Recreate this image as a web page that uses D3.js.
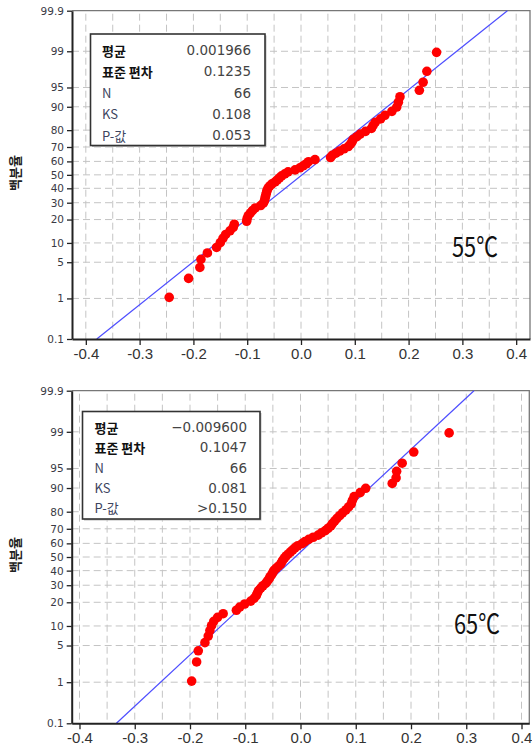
<!DOCTYPE html>
<html>
<head>
<meta charset="utf-8">
<script src="https://cdn.jsdelivr.net/npm/d3@7/dist/d3.min.js"></script>
<style>
  html, body { margin: 0; padding: 0; background: #fff; }
  svg { display: block; }
</style>
</head>
<body>
<svg id="chart" width="532" height="750"></svg>
<script>
// ---------------- DATA ----------------
const probTicks = [0.1, 1, 5, 10, 20, 30, 40, 50, 60, 70, 80, 90, 95, 99, 99.9];
const gridProbs = [1, 5, 10, 20, 30, 40, 50, 60, 70, 80, 90, 95, 99];
const xTicks = [-0.4, -0.3, -0.2, -0.1, 0.0, 0.1, 0.2, 0.3, 0.4];
const xGrid = [-0.4, -0.35, -0.3, -0.25, -0.2, -0.15, -0.1, -0.05, 0, 0.05, 0.1, 0.15, 0.2, 0.25, 0.3, 0.35, 0.4];

const statLabels = ["평균", "표준 편차", "N", "KS", "P-값"];
const stats55 = ["0.001966", "0.1235", "66", "0.108", "0.053"];
const stats65 = ["\u22120.009600", "0.1047", "66", "0.081", ">0.150"];

const fitMean = [0.001966, -0.0096];
const fitSd = [0.1235, 0.1047];
const panelTitles = ["55\u2103", "65\u2103"];

// sorted observed values (residuals), 66 per panel
const values55 = [
  -0.245, -0.209, -0.188, -0.186, -0.174, -0.157, -0.150, -0.145, -0.140, -0.132,
  -0.126, -0.124, -0.101, -0.100, -0.098, -0.094, -0.090, -0.085, -0.075, -0.070,
  -0.068, -0.067, -0.066, -0.065, -0.064, -0.063, -0.061, -0.058, -0.054, -0.048,
  -0.044, -0.040, -0.036, -0.030, -0.024, -0.011, -0.002, 0.004, 0.010, 0.014,
  0.026, 0.055, 0.058, 0.065, 0.072, 0.080, 0.088, 0.092, 0.095, 0.097,
  0.104, 0.110, 0.120, 0.131, 0.134, 0.138, 0.148, 0.156, 0.169, 0.178,
  0.181, 0.184, 0.220, 0.227, 0.234, 0.252
];
const values65 = [
  -0.197, -0.188, -0.185, -0.173, -0.167, -0.164, -0.161, -0.157, -0.150, -0.140,
  -0.116, -0.110, -0.101, -0.090, -0.084, -0.080, -0.078, -0.076, -0.072, -0.068,
  -0.063, -0.060, -0.057, -0.055, -0.052, -0.050, -0.048, -0.044, -0.040, -0.036,
  -0.034, -0.032, -0.029, -0.026, -0.022, -0.018, -0.014, -0.010, -0.005, 0.003,
  0.008, 0.015, 0.023, 0.032, 0.038, 0.045, 0.050, 0.055, 0.058, 0.062,
  0.066, 0.071, 0.076, 0.082, 0.087, 0.092, 0.094, 0.097, 0.108, 0.118,
  0.166, 0.173, 0.174, 0.184, 0.205, 0.269
];

// ---------------- HELPERS ----------------
// inverse standard normal CDF (Acklam)
function probit(p) {
  const a = [-3.969683028665376e+01, 2.209460984245205e+02, -2.759285104469687e+02, 1.383577518672690e+02, -3.066479806614716e+01, 2.506628277459239e+00];
  const b = [-5.447609879822406e+01, 1.615858368580409e+02, -1.556989798598866e+02, 6.680131188771972e+01, -1.328068155288572e+01];
  const c = [-7.784894002430293e-03, -3.223964580411365e-01, -2.400758277161838e+00, -2.549732539343734e+00, 4.374664141464968e+00, 2.938163982698783e+00];
  const d = [7.784695709041462e-03, 3.224671290700398e-01, 2.445134137142996e+00, 3.754408661907416e+00];
  const pl = 0.02425, ph = 1 - pl;
  let q, r;
  if (p < pl) {
    q = Math.sqrt(-2 * Math.log(p));
    return (((((c[0]*q+c[1])*q+c[2])*q+c[3])*q+c[4])*q+c[5]) / ((((d[0]*q+d[1])*q+d[2])*q+d[3])*q+1);
  } else if (p <= ph) {
    q = p - 0.5; r = q*q;
    return (((((a[0]*r+a[1])*r+a[2])*r+a[3])*r+a[4])*r+a[5])*q / (((((b[0]*r+b[1])*r+b[2])*r+b[3])*r+b[4])*r+1);
  } else {
    q = Math.sqrt(-2 * Math.log(1 - p));
    return -(((((c[0]*q+c[1])*q+c[2])*q+c[3])*q+c[4])*q+c[5]) / ((((d[0]*q+d[1])*q+d[2])*q+d[3])*q+1);
  }
}

const svg = d3.select("#chart");

const panels = [
  { left: 72, right: 530, top: 10.7, bottom: 339, xDom: [-0.4257, 0.4257],
    values: values55, stats: stats55, mean: fitMean[0], sd: fitSd[0], title: panelTitles[0],
    box: { x: 90.5, y: 34, w: 174.5, h: 111.5, lx: 102, vx: 251, y0: 50, dy: 21.3 },
    titlePos: [452, 245], ylabPos: [14, 173] },
  { left: 71.7, right: 529.3, top: 390.7, bottom: 723.3, xDom: [-0.4141, 0.4141],
    values: values65, stats: stats65, mean: fitMean[1], sd: fitSd[1], title: panelTitles[1],
    box: { x: 82.5, y: 411.5, w: 177.5, h: 107.5, lx: 94.5, vx: 247, y0: 427.3, dy: 20.1 },
    titlePos: [454, 622], ylabPos: [14, 555] }
];

panels.forEach((P) => {
  const g = svg.append("g");
  const x = d3.scaleLinear().domain(P.xDom).range([P.left, P.right]);
  const y = d3.scaleLinear().domain([probit(0.001), probit(0.999)]).range([P.bottom, P.top]);
  const yp = (pct) => y(probit(pct / 100));

  // grid
  g.append("g").selectAll("line").data(gridProbs).join("line")
    .attr("x1", P.left).attr("x2", P.right)
    .attr("y1", d => yp(d)).attr("y2", d => yp(d))
    .attr("stroke", "#c4c4c4").attr("stroke-width", 1).attr("stroke-dasharray", "7,4");
  g.append("g").selectAll("line").data(xGrid).join("line")
    .attr("x1", d => x(d)).attr("x2", d => x(d))
    .attr("y1", P.top + 3).attr("y2", P.bottom)
    .attr("stroke", "#c4c4c4").attr("stroke-width", 1).attr("stroke-dasharray", "7,4");

  // frame top/right
  g.append("path")
    .attr("d", `M${P.left},${P.top}H${P.right}V${P.bottom}`)
    .attr("fill", "none").attr("stroke", "#777").attr("stroke-width", 1.3);

  // fitted line
  const zLo = probit(0.001), zHi = probit(0.999);
  g.append("line")
    .attr("x1", x(P.mean + zLo * P.sd)).attr("y1", y(zLo))
    .attr("x2", x(P.mean + zHi * P.sd)).attr("y2", y(zHi))
    .attr("stroke", "#4d4dff").attr("stroke-width", 1.2);

  // points
  const n = P.values.length;
  g.append("g").selectAll("circle").data(P.values).join("circle")
    .attr("cx", d => x(d))
    .attr("cy", (d, i) => y(probit((i + 1 - 0.3) / (n + 0.4))))
    .attr("r", 4.8)
    .attr("fill", "#ff0000");

  // axes
  const yAxis = d3.axisLeft(y)
    .tickValues(probTicks.map(p => probit(p / 100)))
    .tickFormat((d, i) => String(probTicks[i]))
    .tickSize(5).tickSizeOuter(0);
  const ya = g.append("g").attr("transform", `translate(${P.left},0)`).call(yAxis);
  ya.select(".domain").attr("stroke", "#222").attr("stroke-width", 2);
  ya.selectAll(".tick line").attr("stroke", "#222").attr("stroke-width", 1.3);
  ya.selectAll(".tick text").attr("font-family", "DejaVu Sans, sans-serif")
    .attr("font-size", 10.5).attr("fill", "#3a3a44").attr("x", -8);

  const xAxis = d3.axisBottom(x).tickValues(xTicks)
    .tickFormat(d => d.toFixed(1).replace("-0.0", "0.0"))
    .tickSize(6).tickSizeOuter(0);
  const xa = g.append("g").attr("transform", `translate(0,${P.bottom})`).call(xAxis);
  xa.select(".domain").attr("stroke", "#222").attr("stroke-width", 2);
  xa.selectAll(".tick line").attr("stroke", "#222").attr("stroke-width", 1.3);
  xa.selectAll(".tick text").attr("font-family", "Liberation Sans, Arial, sans-serif")
    .attr("font-size", 15).attr("fill", "#333").attr("dy", "0.9em").attr("y", 6);

  // stats box
  const B = P.box;
  g.append("rect").attr("x", B.x + 1.5).attr("y", B.y + 1.5).attr("width", B.w).attr("height", B.h)
    .attr("fill", "#bbb");
  g.append("rect").attr("x", B.x).attr("y", B.y).attr("width", B.w).attr("height", B.h)
    .attr("fill", "#fff").attr("stroke", "#333").attr("stroke-width", 1.6);
  const rows = g.append("g").selectAll("g").data(statLabels).join("g");
  rows.append("text").attr("x", B.lx).attr("y", (d, i) => B.y0 + i * B.dy)
    .attr("dominant-baseline", "central")
    .attr("font-family", "Noto Sans CJK KR, DejaVu Sans, sans-serif")
    .attr("font-size", 13).attr("font-weight", (d, i) => i < 2 ? 700 : 400)
    .attr("fill", (d, i) => i < 2 ? "#111" : "#3d4560")
    .text(d => d);
  rows.append("text").attr("x", B.vx).attr("y", (d, i) => B.y0 + i * B.dy)
    .attr("dominant-baseline", "central").attr("text-anchor", "end")
    .attr("font-family", "DejaVu Sans, sans-serif")
    .attr("font-size", 13.5).attr("fill", "#444")
    .text((d, i) => P.stats[i]);

  // y axis title
  g.append("text")
    .attr("transform", `translate(${P.ylabPos[0]},${P.ylabPos[1]}) rotate(-90)`)
    .attr("text-anchor", "middle").attr("dominant-baseline", "central")
    .attr("font-family", "Noto Sans CJK KR, sans-serif").attr("font-size", 13).attr("font-weight", 700)
    .attr("fill", "#222")
    .text("백분율");

  // temperature label
  g.append("text")
    .attr("x", P.titlePos[0]).attr("y", P.titlePos[1])
    .attr("dominant-baseline", "central")
    .attr("textLength", 46).attr("lengthAdjust", "spacingAndGlyphs")
    .attr("font-family", "Noto Sans CJK KR, sans-serif")
    .attr("font-size", 27).attr("fill", "#111")
    .text(P.title);
});
</script>
</body>
</html>
